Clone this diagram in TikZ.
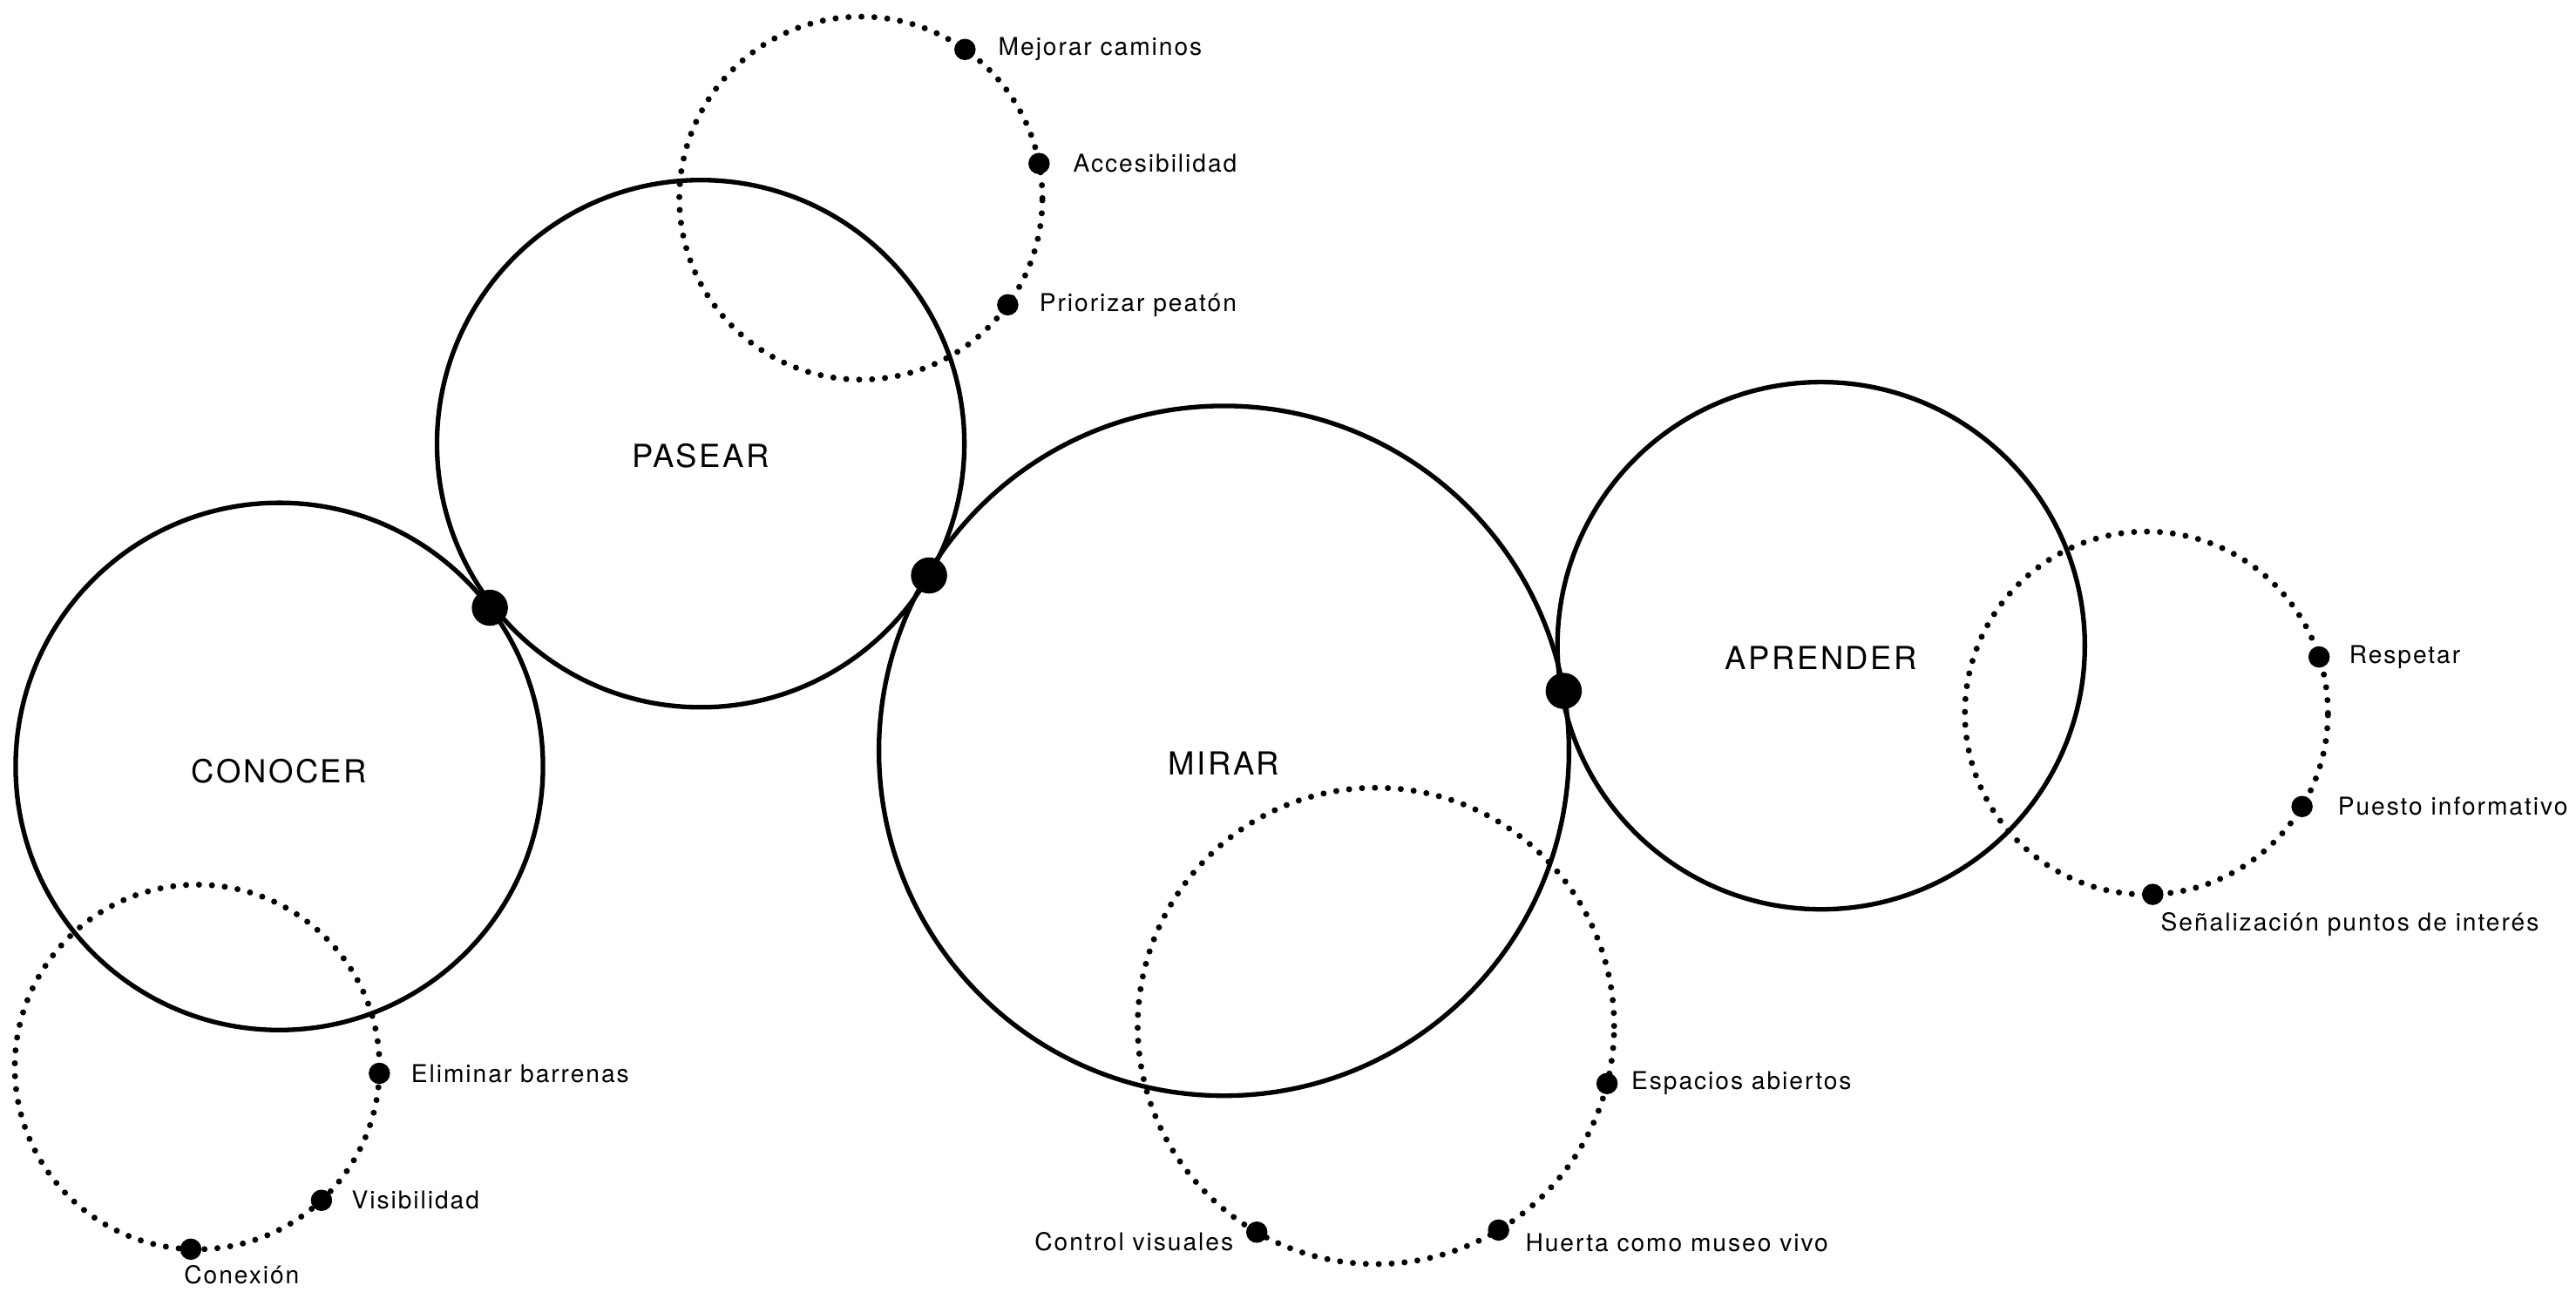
\documentclass[tikz,border=0pt]{standalone}
\usepackage{fontspec}
\setmainfont{TeX Gyre Heros}
\newfontfamily\spacedfam[LetterSpace=7]{TeX Gyre Heros}
\newcommand{\notestyle}{\spacedfam\fontsize{8.5}{10}\selectfont}
\newcommand{\titlestyle}{\spacedfam\fontsize{11}{13}\selectfont}
\usepackage{tikz}
\usetikzlibrary{positioning}
\tikzstyle{bigring} = [circle, draw, line width=1.6pt, inner sep=0pt, outer sep=0pt]
\tikzstyle{dotring} = [circle, draw, line width=2.1pt, line cap=round, dash pattern=on 0pt off 1.575mm, inner sep=0pt, outer sep=0pt]
\tikzstyle{spot} = [circle, fill, minimum size=2.6mm, inner sep=0pt, outer sep=0pt]
\tikzstyle{knot} = [circle, fill, minimum size=4.4mm, inner sep=0pt, outer sep=0pt]
\tikzstyle{title} = [font=\titlestyle, inner sep=0pt]
\tikzstyle{note} = [font=\notestyle, inner sep=0pt]

\begin{document}
\begin{tikzpicture}[auto]
    \useasboundingbox (0,0) rectangle (31.36,15.733);
    % main circles
    \node[bigring, minimum size=6.42cm] (conocer) at (3.40,6.40) {};
    \node[bigring, minimum size=6.42cm] (pasear) at (8.53,10.33) {};
    \node[bigring, minimum size=8.40cm] (mirar) at (14.90,6.59) {};
    \node[bigring, minimum size=6.42cm] (aprender) at (22.17,7.87) {};
    \node[title] (tconocer) at ([yshift=-0.6mm]conocer.center) {CONOCER};
    \node[title] (tpasear) at ([yshift=-1.5mm]pasear.center) {PASEAR};
    \node[title] (tmirar) at ([yshift=-1.5mm]mirar.center) {MIRAR};
    \node[title] (taprender) at ([yshift=-1.5mm]aprender.center) {APRENDER};
    \node[knot] (j1) at (conocer.37.5) {};
    \node[knot] (j2) at (pasear.-30.4) {};
    \node[knot] (j3) at (mirar.10) {};

    % dotted rings
    \node[dotring, minimum size=4.42cm] (ringpasear) at (10.48,13.32) {};
    \node[dotring, minimum size=4.42cm] (ringaprender) at (26.13,7.05) {};
    \node[dotring, minimum size=4.44cm] (ringconocer) at (2.40,2.74) {};
    \node[dotring, minimum size=5.80cm] (ringmirar) at (16.75,3.24) {};

    % pasear
    \node[spot] (mejorar) at (ringpasear.55.6) {};
    \node[spot] (acces) at (ringpasear.11.5) {};
    \node[spot] (priorizar) at (ringpasear.-36.9) {};
    \node[note, right=2.7mm of mejorar] (lmejorar) {Mejorar caminos};
    \node[note, right=2.8mm of acces] (lacces) {Accesibilidad};
    \node[note, right=2.5mm of priorizar] (lpriorizar) {Priorizar peatón};

    % aprender
    \node[spot] (respetar) at (ringaprender.18.9) {};
    \node[spot] (puesto) at (ringaprender.-31) {};
    \node[spot] (senal) at (ringaprender.-88.4) {};
    \node[note, right=2.3mm of respetar] (lrespetar) {Respetar};
    \node[note, right=3.0mm of puesto] (lpuesto) {Puesto informativo};
    \node[note, below right=1.2mm and 0mm of senal] (lsenal) {Señalización puntos de interés};

    % conocer
    \node[spot] (eliminar) at (ringconocer.-2.6) {};
    \node[spot] (visib) at (ringconocer.-47.2) {};
    \node[spot] (conexion) at (ringconocer.-92.6) {};
    \node[note, right=2.5mm of eliminar] (leliminar) {Eliminar barrenas};
    \node[note, right=2.3mm of visib] (lvisib) {Visibilidad};
    \node[note, below=0.6mm of conexion, xshift=6.2mm] (lconexion) {Conexión};

    % mirar
    \node[spot] (espacios) at (ringmirar.-14) {};
    \node[spot] (control) at (ringmirar.-120.2) {};
    \node[spot] (huerta) at (ringmirar.-59.9) {};
    \node[note, right=1.6mm of espacios] (lespacios) {Espacios abiertos};
    \node[note, left=1.5mm of control, yshift=-1.2mm] (lcontrol) {Control visuales};
    \node[note, right=1.9mm of huerta, yshift=-1.5mm] (lhuerta) {Huerta como museo vivo};
\end{tikzpicture}
\end{document}
